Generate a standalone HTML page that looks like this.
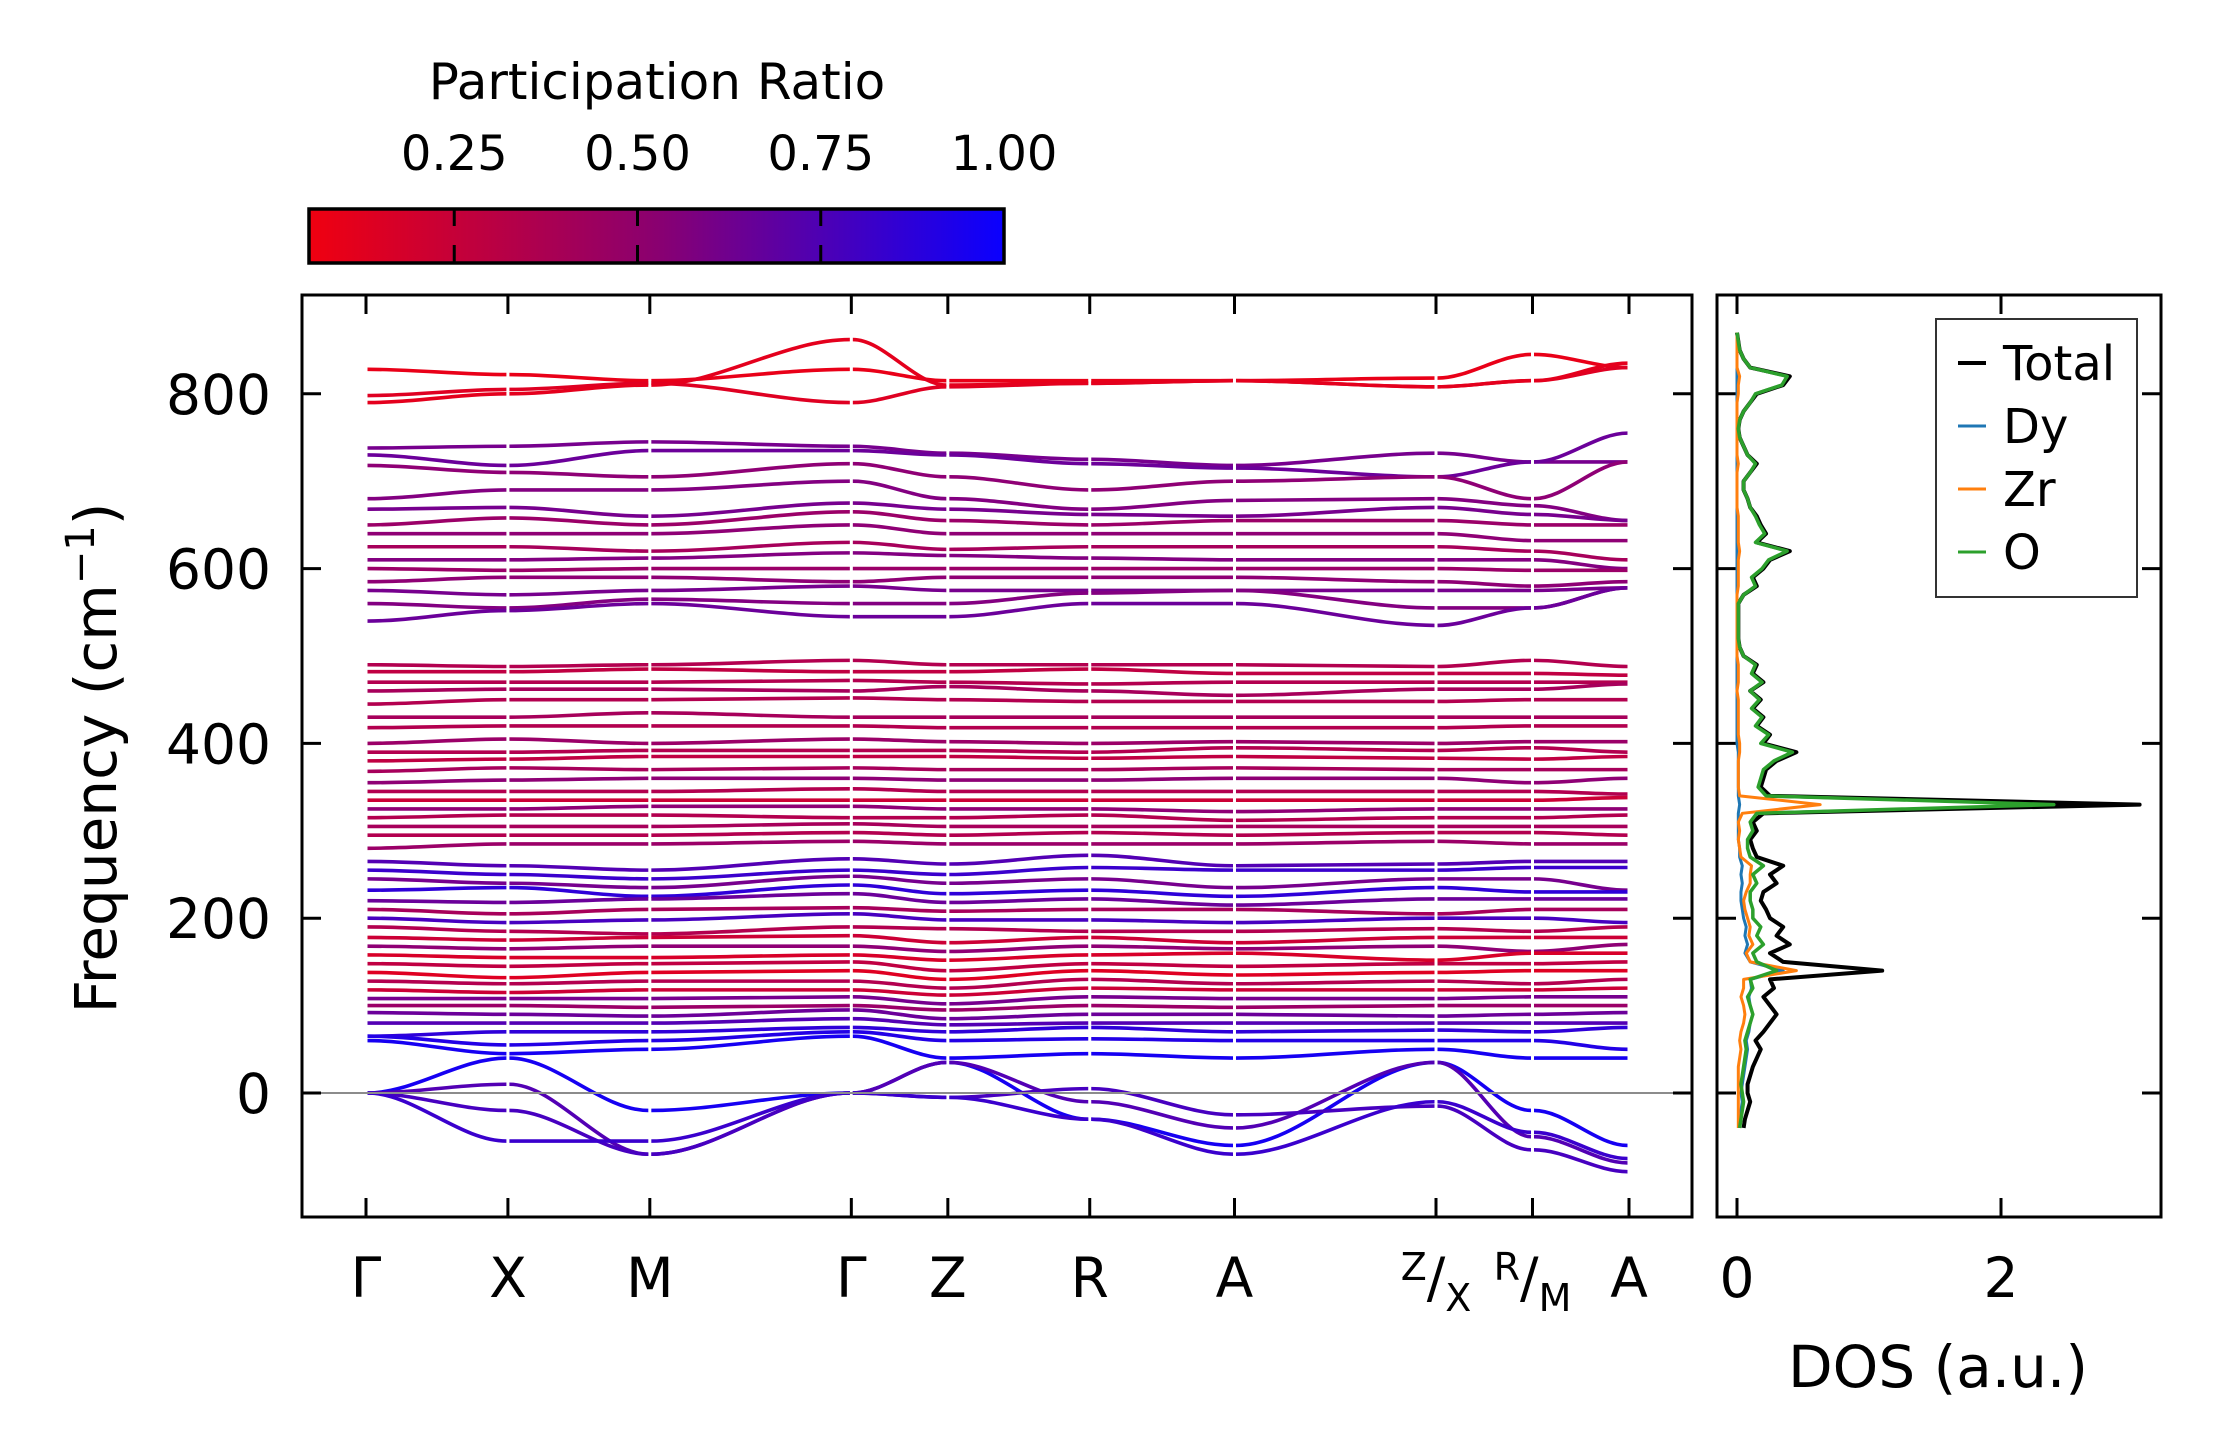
<!DOCTYPE html>
<html><head><meta charset="utf-8"><style>
html,body{margin:0;padding:0;background:#fff;}
svg{display:block;font-family:"DejaVu Sans","Liberation Sans",sans-serif;}
</style></head><body>
<svg id="fig" width="2222" height="1455" viewBox="0 0 2222 1455" xmlns="http://www.w3.org/2000/svg">
<defs>
<linearGradient id="cbgrad" x1="0" x2="1" y1="0" y2="0">
<stop offset="0" stop-color="#f00010"/><stop offset="0.5" stop-color="#8a0070"/><stop offset="1" stop-color="#0a00ff"/>
</linearGradient>
<clipPath id="mainclip"><rect x="301" y="294" width="1392" height="924"/></clipPath>
<clipPath id="dosclip"><rect x="1716" y="294" width="446" height="924"/></clipPath>
</defs>
<g>
<text x="657" y="99" font-size="50" text-anchor="middle">Participation Ratio</text>
<rect x="309" y="209" width="695" height="54" fill="url(#cbgrad)" stroke="#000" stroke-width="3.5"/>
<g id="cbticks"></g>
</g>
<g id="bands" clip-path="url(#mainclip)"></g>
<line x1="301" x2="1693" id="zeroline" stroke="#8c8c8c" stroke-width="2"/>
<rect x="302" y="295" width="1390" height="922" fill="none" stroke="#000" stroke-width="3"/>
<g id="mainticks"></g>
<text transform="translate(116,758) rotate(-90)" font-size="58" text-anchor="middle">Frequency (cm<tspan dy="-22" font-size="40">−1</tspan><tspan dy="22">)</tspan></text>
<g id="dos" clip-path="url(#dosclip)"></g>
<rect x="1717" y="295" width="444" height="922" fill="none" stroke="#000" stroke-width="3"/>
<g id="dosticks"></g>
<text x="1938" y="1387" font-size="58" text-anchor="middle">DOS (a.u.)</text>
<g>
<rect x="1936" y="319" width="201" height="278" fill="#fff" stroke="#333" stroke-width="2"/>
<line x1="1958" x2="1986" y1="363" y2="363" stroke="#000" stroke-width="4"/>
<text x="2003" y="380" font-size="48">Total</text>
<line x1="1958" x2="1986" y1="426" y2="426" stroke="#1f77b4" stroke-width="3"/>
<text x="2003" y="443" font-size="48">Dy</text>
<line x1="1958" x2="1986" y1="489" y2="489" stroke="#ff7f0e" stroke-width="3"/>
<text x="2003" y="506" font-size="48">Zr</text>
<line x1="1958" x2="1986" y1="552" y2="552" stroke="#2ca02c" stroke-width="3"/>
<text x="2003" y="569" font-size="48">O</text>
</g>
</svg>
<script>
const kLabels = ["Γ","X","M","Γ","Z","R","A","Z/X","R/M","A"];
const kPos = [0,1,2,3.42,4.1,5.1,6.12,7.54,8.22,8.9];
const yTicks = [0,200,400,600,800];
const cbTicks = [0.25,0.5,0.75,1.0];
const cbTickLabels = ["0.25","0.50","0.75","1.00"];
const dosTicks = [0,2];
const bandFreqs = [
[828,822,815,828,815,815,815,818,845,830],
[798,805,812,790,808,812,815,808,815,830],
[790,800,810,862,810,812,815,808,815,835],
[738,740,745,740,732,725,718,732,722,722],
[730,718,735,735,730,720,715,705,722,755],
[718,710,705,720,705,690,700,705,680,722],
[680,690,690,700,680,668,678,680,672,655],
[668,670,660,675,668,662,660,670,662,655],
[650,658,650,665,655,650,655,655,650,650],
[640,640,640,650,640,640,640,640,632,632],
[625,625,620,630,622,625,625,625,620,610],
[610,610,612,618,615,612,610,610,610,600],
[600,598,600,600,600,600,600,600,598,598],
[585,590,590,585,590,590,590,585,580,585],
[575,570,575,580,575,575,575,575,575,578],
[560,555,565,560,560,572,575,555,555,578],
[540,552,560,545,545,560,560,535,555,578],
[490,488,490,495,490,490,490,488,495,488],
[482,482,485,482,482,485,480,480,480,478],
[470,470,470,472,470,468,470,470,470,470],
[460,462,462,460,465,460,455,462,462,468],
[445,450,450,452,450,448,448,448,450,450],
[430,430,435,430,430,430,430,430,430,430],
[418,420,420,420,418,418,418,418,420,420],
[400,405,400,405,402,400,402,400,402,402],
[390,390,392,392,392,390,395,392,395,390],
[380,382,385,385,385,383,385,383,382,385],
[368,372,370,372,370,370,372,370,370,370],
[355,358,360,360,358,358,360,360,355,360],
[345,345,345,348,345,345,345,345,345,342],
[335,335,335,335,335,335,335,335,335,338],
[325,325,328,328,325,325,322,325,325,325],
[315,318,318,315,315,318,312,315,315,318],
[305,305,305,308,305,305,305,305,305,305],
[295,295,295,298,295,298,295,298,298,295],
[280,285,285,288,285,285,285,288,285,285],
[265,260,255,268,262,272,260,262,265,265],
[255,250,245,255,250,258,255,255,258,258],
[245,240,235,248,240,245,235,245,245,232],
[232,235,225,238,228,232,225,235,230,230],
[220,218,222,228,218,222,215,222,222,222],
[210,205,210,212,208,210,210,205,210,210],
[200,195,198,205,198,198,195,200,200,195],
[190,185,182,190,188,185,185,188,185,190],
[178,175,178,180,172,178,172,178,178,178],
[168,165,168,168,162,168,165,168,162,170],
[158,155,155,158,152,158,160,152,160,160],
[148,145,148,150,140,148,145,148,148,150],
[138,132,138,140,130,140,135,138,140,140],
[128,125,128,128,120,130,125,128,125,130],
[118,115,118,118,112,120,118,118,118,120],
[108,108,108,110,102,110,108,108,110,110],
[100,100,98,100,95,100,98,100,100,100],
[92,90,88,95,85,90,90,88,90,92],
[80,80,80,85,78,80,80,80,80,80],
[65,70,70,75,70,75,70,72,70,75],
[65,55,60,70,60,62,60,60,60,50],
[60,45,50,65,40,45,40,50,40,40],
[0,40,-20,0,35,-30,-60,35,-20,-60],
[0,10,-70,0,35,-10,-40,35,-50,-80],
[0,-20,-70,0,-5,5,-25,-15,-65,-90],
[0,-55,-55,0,-5,-30,-70,-10,-45,-75]
];
const bandPR = [0.08,0.12,0.1,0.55,0.6,0.45,0.5,0.55,0.4,0.45,0.35,0.5,0.4,0.45,0.55,0.5,0.6,
0.3,0.25,0.3,0.35,0.3,0.35,0.3,0.4,0.3,0.25,0.35,0.45,0.3,0.2,0.45,0.3,0.35,0.3,0.4,
0.7,0.8,0.55,0.85,0.6,0.35,0.75,0.3,0.2,0.45,0.15,0.25,0.12,0.3,0.2,0.55,0.4,0.6,0.7,0.85,0.9,0.95,
0.95,0.7,0.75,0.8];
const dosFreq = [-40,-30,-20,-10,0,10,20,30,40,50,60,70,80,90,100,110,120,130,140,150,160,170,180,190,200,210,220,230,240,250,260,270,280,290,300,310,320,330,340,350,360,370,380,390,400,410,420,430,440,450,460,470,480,490,500,510,520,530,540,550,560,570,580,590,600,610,620,630,640,650,660,670,680,690,700,710,720,730,740,750,760,770,780,790,800,810,820,830,840,850,860,870];
const dosTotal = [0.05,0.06,0.08,0.1,0.08,0.08,0.1,0.12,0.15,0.18,0.14,0.2,0.25,0.3,0.25,0.2,0.28,0.25,1.1,0.35,0.25,0.4,0.3,0.35,0.25,0.22,0.18,0.2,0.3,0.25,0.35,0.15,0.12,0.1,0.15,0.12,0.2,3.05,0.25,0.18,0.2,0.22,0.3,0.45,0.2,0.25,0.15,0.2,0.12,0.18,0.1,0.2,0.12,0.15,0.05,0.02,0.01,0.01,0.01,0.01,0.01,0.05,0.15,0.12,0.2,0.25,0.4,0.15,0.22,0.18,0.15,0.1,0.08,0.05,0.05,0.1,0.15,0.08,0.05,0.02,0.01,0.02,0.05,0.1,0.15,0.35,0.4,0.1,0.05,0.02,0.01,0.0];
const dosO = [0.02,0.03,0.04,0.05,0.04,0.03,0.04,0.05,0.06,0.07,0.06,0.08,0.1,0.12,0.1,0.08,0.12,0.1,0.3,0.15,0.12,0.2,0.15,0.18,0.12,0.12,0.1,0.1,0.15,0.12,0.2,0.1,0.08,0.08,0.12,0.1,0.15,2.4,0.22,0.16,0.18,0.2,0.28,0.42,0.18,0.24,0.14,0.19,0.11,0.17,0.1,0.19,0.11,0.14,0.05,0.02,0.01,0.01,0.01,0.01,0.01,0.05,0.14,0.11,0.19,0.24,0.38,0.14,0.21,0.17,0.14,0.1,0.08,0.05,0.05,0.1,0.14,0.08,0.05,0.02,0.01,0.02,0.05,0.1,0.14,0.34,0.38,0.1,0.05,0.02,0.01,0.0];
const dosDy = [0.02,0.02,0.03,0.04,0.03,0.04,0.05,0.06,0.07,0.08,0.07,0.09,0.1,0.12,0.1,0.09,0.11,0.1,0.35,0.1,0.06,0.08,0.06,0.07,0.05,0.04,0.03,0.03,0.04,0.03,0.04,0.02,0.02,0.01,0.01,0.01,0.01,0.02,0.01,0.01,0.01,0.01,0.01,0.01,0.0,0.0,0.0,0.0,0.0,0.0,0.0,0.0,0.0,0.0,0.0,0.0,0.0,0.0,0.0,0.0,0.0,0.0,0.0,0.0,0.0,0.0,0.0,0.0,0.0,0.0,0.0,0.0,0.0,0.0,0.0,0.0,0.0,0.0,0.0,0.0,0.0,0.0,0.0,0.0,0.0,0.0,0.0,0.0,0.0,0.0,0.0,0.0];
const dosZr = [0.01,0.01,0.01,0.01,0.01,0.01,0.01,0.01,0.02,0.03,0.02,0.03,0.05,0.06,0.05,0.03,0.05,0.05,0.45,0.1,0.07,0.12,0.09,0.1,0.08,0.06,0.05,0.07,0.1,0.1,0.11,0.03,0.02,0.01,0.02,0.01,0.04,0.63,0.02,0.01,0.01,0.01,0.01,0.02,0.02,0.01,0.01,0.01,0.01,0.01,0.0,0.01,0.01,0.01,0.0,0.0,0.0,0.0,0.0,0.0,0.0,0.0,0.01,0.01,0.01,0.01,0.02,0.01,0.01,0.01,0.01,0.0,0.0,0.0,0.0,0.0,0.01,0.0,0.0,0.0,0.0,0.0,0.0,0.0,0.01,0.01,0.02,0.0,0.0,0.0,0.0,0.0];

const NS="http://www.w3.org/2000/svg";
const X0=366, X1=1629;
function xk(k){return X0+(X1-X0)*k/kPos[kPos.length-1];}
function yf(f){return 1093-f*0.874;}
function xd(v){return 1737+v*132;}
function cbx(v){return 271+v*733;}
function prColor(p){const t=Math.max(0,Math.min(1,(p-0.05)/0.95));
 const r=Math.round(240*(1-t)+10*t), b=Math.round(16*(1-t)+255*t);
 return `rgb(${r},0,${b})`;}
function mk(tag,attrs,parent){const e=document.createElementNS(NS,tag);for(const k in attrs)e.setAttribute(k,attrs[k]);parent.appendChild(e);return e;}

document.getElementById('zeroline').setAttribute('y1',yf(0));
document.getElementById('zeroline').setAttribute('y2',yf(0));

const cbg=document.getElementById('cbticks');
cbTicks.forEach((v,i)=>{
 const x=cbx(v);
 if(v<1){
  const l1=mk('line',{x1:x,x2:x,y1:209,y2:226,stroke:'#000','stroke-width':3},cbg);
  
  
  const l2=mk('line',{x1:x,x2:x,y1:245,y2:263,stroke:'#000','stroke-width':3},cbg);
  
  
 }
 const t=mk('text',{x:x,y:170,'font-size':48,'text-anchor':'middle'},cbg);
 t.textContent=cbTickLabels[i];
 
 
});

const bg=document.getElementById('bands');
bandFreqs.forEach((row,b)=>{
 const col=prColor(bandPR[b]);
 for(let s=0;s<row.length-1;s++){
  const xa=xk(kPos[s])+1.5, xb=xk(kPos[s+1])-1.5, ya=yf(row[s]), yb=yf(row[s+1]);
  const dx=(xb-xa)/3;
  const p=mk('path',{d:`M${xa},${ya} C${xa+dx},${ya} ${xb-dx},${yb} ${xb},${yb}`,fill:'none',stroke:col,'stroke-width':3.6},bg);
  
  
 }
});

const mt=document.getElementById('mainticks');
kPos.forEach((k,i)=>{
 const x=xk(k);
 const a=mk('line',{x1:x,x2:x,y1:1218,y2:1198,stroke:'#000','stroke-width':3},mt);
 
 
 const c=mk('line',{x1:x,x2:x,y1:294,y2:314,stroke:'#000','stroke-width':3},mt);
 
 
 const lab=kLabels[i];
 const t=mk('text',{x:x,y:1297,'font-size':55,'text-anchor':'middle'},mt);
 
 
 if(lab.includes('/')){
  const [p1,p2]=lab.split('/');
  t.innerHTML=`<tspan font-size="38" dy="-17">${p1}</tspan><tspan font-size="55" dy="17">/</tspan><tspan font-size="38" dy="14">${p2}</tspan>`;
 } else t.textContent=lab;
});
yTicks.forEach(v=>{
 const y=yf(v);
 const a=mk('line',{x1:301,x2:321,y1:y,y2:y,stroke:'#000','stroke-width':3},mt);
 
 
 const b=mk('line',{x1:1673,x2:1693,y1:y,y2:y,stroke:'#000','stroke-width':3},mt);
 
 
 const c=mk('line',{x1:1716,x2:1736,y1:y,y2:y,stroke:'#000','stroke-width':3},mt);
 
 
 const d=mk('line',{x1:2142,x2:2162,y1:y,y2:y,stroke:'#000','stroke-width':3},mt);
 
 
 const t=mk('text',{x:271,y:y+20,'font-size':55,'text-anchor':'end'},mt);
 t.textContent=v;
 
 
});

const dg=document.getElementById('dos');
function dosPath(vals,col,w,name){
 let d='';
 vals.forEach((v,i)=>{d+=(i?'L':'M')+xd(v)+','+yf(dosFreq[i]);});
 const p=mk('path',{d:d,fill:'none',stroke:col,'stroke-width':w,'stroke-linejoin':'round'},dg);
 
 
}
dosPath(dosTotal,'#000',4,'dos-total-line');
dosPath(dosDy,'#1f77b4',3,'dos-dy-line');
dosPath(dosZr,'#ff7f0e',3,'dos-zr-line');
dosPath(dosO,'#2ca02c',3.5,'dos-o-line');
const dt=document.getElementById('dosticks');
dosTicks.forEach(v=>{
 const x=xd(v);
 const a=mk('line',{x1:x,x2:x,y1:1218,y2:1198,stroke:'#000','stroke-width':3},dt);
 
 
 const c=mk('line',{x1:x,x2:x,y1:294,y2:314,stroke:'#000','stroke-width':3},dt);
 
 
 const t=mk('text',{x:x,y:1297,'font-size':55,'text-anchor':'middle'},dt);
 t.textContent=v;
 
 
});
</script>
</body></html>
